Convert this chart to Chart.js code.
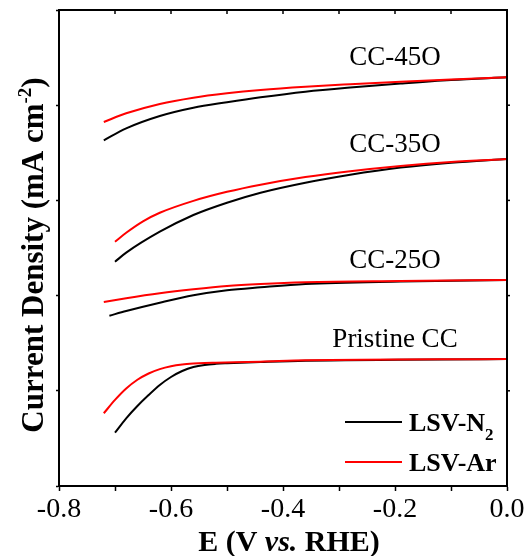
<!DOCTYPE html>
<html>
<head>
<meta charset="utf-8">
<script src="https://cdn.jsdelivr.net/npm/chart.js@4.4.1/dist/chart.umd.min.js"></script>
<style>
  html, body { margin: 0; padding: 0; background: #fff; }
  #wrap { width: 528px; height: 556px; }
</style>
</head>
<body>
<div id="wrap"><canvas id="c" width="528" height="556"></canvas></div>
<script>
// Potential axis (V vs. RHE)
const xTickValues = [-0.8, -0.7, -0.6, -0.5, -0.4, -0.3, -0.2, -0.1, 0.0];

// LSV curves, current density in stacked arbitrary units
const e45Ar = [-0.72, -0.68, -0.62, -0.56, -0.50, -0.44, -0.36, -0.28, -0.19, -0.10, 0.00];
const j45Ar = [3.824, 3.915, 4.013, 4.079, 4.125, 4.160, 4.194, 4.220, 4.246, 4.270, 4.293];
const e45N2 = [-0.72, -0.68, -0.62, -0.56, -0.50, -0.44, -0.36, -0.28, -0.19, -0.10, 0.00];
const j45N2 = [3.631, 3.757, 3.887, 3.974, 4.031, 4.083, 4.142, 4.186, 4.228, 4.265, 4.293];

const e35Ar = [-0.70, -0.68, -0.65, -0.62, -0.56, -0.50, -0.44, -0.36, -0.28, -0.19, -0.10, 0.00];
const j35Ar = [2.566, 2.660, 2.780, 2.870, 2.995, 3.090, 3.165, 3.245, 3.307, 3.362, 3.404, 3.435];
const e35N2 = [-0.70, -0.68, -0.62, -0.56, -0.50, -0.44, -0.36, -0.28, -0.19, -0.10, 0.00];
const j35N2 = [2.356, 2.451, 2.671, 2.847, 2.976, 3.081, 3.186, 3.270, 3.345, 3.396, 3.435];

const e25Ar = [-0.72, -0.68, -0.62, -0.56, -0.50, -0.44, -0.36, -0.19, 0.00];
const j25Ar = [1.933, 1.972, 2.024, 2.066, 2.101, 2.122, 2.140, 2.153, 2.164];
const e25N2 = [-0.71, -0.68, -0.62, -0.56, -0.50, -0.44, -0.36, -0.19, 0.00];
const j25N2 = [1.789, 1.838, 1.925, 2.003, 2.056, 2.087, 2.122, 2.148, 2.164];

const ePrAr = [-0.72, -0.70, -0.68, -0.66, -0.64, -0.62, -0.60, -0.58, -0.56, -0.54, -0.52, -0.44, -0.36, 0.00];
const jPrAr = [0.764, 0.904, 1.024, 1.116, 1.182, 1.228, 1.258, 1.276, 1.286, 1.292, 1.295, 1.306, 1.320, 1.334];
const ePrN2 = [-0.70, -0.68, -0.66, -0.64, -0.62, -0.60, -0.58, -0.56, -0.54, -0.52, -0.50, -0.44, -0.36, 0.00];
const jPrN2 = [0.560, 0.711, 0.840, 0.955, 1.061, 1.145, 1.208, 1.250, 1.272, 1.283, 1.289, 1.302, 1.316, 1.334];

// Sample names and where each is written (E, j)
const sampleNames = ['CC-45O', 'CC-35O', 'CC-25O', 'Pristine CC'];
const sampleLabelE = [-0.2, -0.2, -0.2, -0.2];
const sampleLabelJ = [4.42, 3.51, 2.29, 1.46];

const legendNames = ['LSV-N', 'LSV-Ar'];

const RED = '#ff0000';
const BLACK = '#000000';
const SERIF = '"Liberation Serif", "Times New Roman", serif';

function pts(xs, ys) { return xs.map((x, i) => ({ x: x, y: ys[i] })); }

function curve(xs, ys, color) {
  return {
    data: pts(xs, ys),
    borderColor: color,
    borderWidth: 2,
    pointRadius: 0,
    fill: false,
    cubicInterpolationMode: 'monotone'
  };
}

const datasets = [
  curve(e45Ar, j45Ar, RED), curve(e45N2, j45N2, BLACK),
  curve(e35Ar, j35Ar, RED), curve(e35N2, j35N2, BLACK),
  curve(e25Ar, j25Ar, RED), curve(e25N2, j25N2, BLACK),
  curve(ePrAr, jPrAr, RED), curve(ePrN2, jPrN2, BLACK)
];

// Draws a run of text pieces with different fonts / vertical offsets
function drawRich(ctx, segs, x, y) {
  let total = 0;
  segs.forEach(s => { ctx.font = s.font; s.w = ctx.measureText(s.text).width; total += s.w; });
  let cx = x - total / 2;
  segs.forEach(s => {
    ctx.font = s.font;
    ctx.fillText(s.text, cx, y + (s.dy || 0));
    cx += s.w;
  });
}

const framePlugin = {
  id: 'frame',
  afterDraw(chart) {
    const ctx = chart.ctx;
    const a = chart.chartArea;
    const xs = chart.scales.x, ys = chart.scales.y;
    ctx.save();
    ctx.strokeStyle = BLACK;
    ctx.fillStyle = BLACK;

    // top and right frame lines
    ctx.lineWidth = 2;
    ctx.beginPath();
    ctx.moveTo(a.left - 1, a.top);
    ctx.lineTo(a.right, a.top);
    ctx.lineTo(a.right, a.bottom + 1);
    ctx.stroke();

    // mirrored ticks on top and right
    ctx.lineWidth = 1.5;
    xTickValues.forEach(v => {
      const px = xs.getPixelForValue(v);
      ctx.beginPath();
      ctx.moveTo(px, a.top);
      ctx.lineTo(px, a.top + 4);
      ctx.stroke();
    });
    for (let v = 1; v <= 4; v++) {
      const py = ys.getPixelForValue(v);
      ctx.beginPath();
      ctx.moveTo(a.right, py);
      ctx.lineTo(a.right + 3, py);
      ctx.stroke();
    }

    // sample labels
    ctx.textAlign = 'left';
    ctx.textBaseline = 'alphabetic';
    sampleNames.forEach((name, i) => {
      drawRich(ctx, [{ text: name, font: '27px ' + SERIF }],
        xs.getPixelForValue(sampleLabelE[i]), ys.getPixelForValue(sampleLabelJ[i]));
    });

    // legend
    const lx0 = 345, lx1 = 402, tx = 409;
    const rows = [
      { y: 422, color: BLACK, segs: [{ text: legendNames[0], font: 'bold 26px ' + SERIF }, { text: '2', font: 'bold 17px ' + SERIF, dy: 9 }] },
      { y: 462, color: RED, segs: [{ text: legendNames[1], font: 'bold 26px ' + SERIF }] }
    ];
    rows.forEach(r => {
      ctx.strokeStyle = r.color;
      ctx.lineWidth = 2;
      ctx.beginPath();
      ctx.moveTo(lx0, r.y);
      ctx.lineTo(lx1, r.y);
      ctx.stroke();
      let cx = tx;
      r.segs.forEach(s => {
        ctx.font = s.font;
        ctx.fillText(s.text, cx, r.y + 9 + (s.dy || 0));
        cx += ctx.measureText(s.text).width;
      });
    });

    // x axis title
    drawRich(ctx, [
      { text: 'E (V ', font: 'bold 30px ' + SERIF },
      { text: 'vs.', font: 'italic bold 30px ' + SERIF },
      { text: ' RHE)', font: 'bold 30px ' + SERIF }
    ], 289, 551);

    // y axis title
    ctx.translate(43, 255);
    ctx.rotate(-Math.PI / 2);
    drawRich(ctx, [
      { text: 'Current Density (mA cm', font: 'bold 31px ' + SERIF },
      { text: '-2', font: 'bold 19px ' + SERIF, dy: -12 },
      { text: ')', font: 'bold 31px ' + SERIF }
    ], 0, 0);

    ctx.restore();
  }
};

new Chart(document.getElementById('c'), {
  type: 'line',
  data: { datasets: datasets },
  options: {
    responsive: false,
    animation: false,
    devicePixelRatio: 1,
    layout: { padding: { top: 10, right: 21, left: 0, bottom: 0 } },
    plugins: { legend: { display: false }, tooltip: { enabled: false } },
    scales: {
      x: {
        type: 'linear',
        min: -0.8,
        max: 0,
        afterBuildTicks: s => { s.ticks = xTickValues.map(v => ({ value: v })); },
        afterFit: s => { s.height = 70; },
        border: { color: BLACK, width: 2 },
        grid: { drawOnChartArea: false, drawTicks: true, tickLength: 5, tickColor: BLACK, tickWidth: 1.5 },
        ticks: {
          color: BLACK,
          font: { family: SERIF, size: 28 },
          padding: 2,
          maxRotation: 0,
          autoSkip: false,
          callback: (v, i) => (i % 2 === 0 ? v.toFixed(1) : '')
        }
      },
      y: {
        min: 0,
        max: 5,
        afterBuildTicks: s => { s.ticks = [0, 1, 2, 3, 4, 5].map(v => ({ value: v })); },
        afterFit: s => { s.width = 59; },
        border: { color: BLACK, width: 2 },
        grid: { drawOnChartArea: false, drawTicks: true, tickLength: 3, tickColor: BLACK, tickWidth: 1.5 },
        ticks: { display: false }
      }
    }
  },
  plugins: [framePlugin]
});
</script>
</body>
</html>
